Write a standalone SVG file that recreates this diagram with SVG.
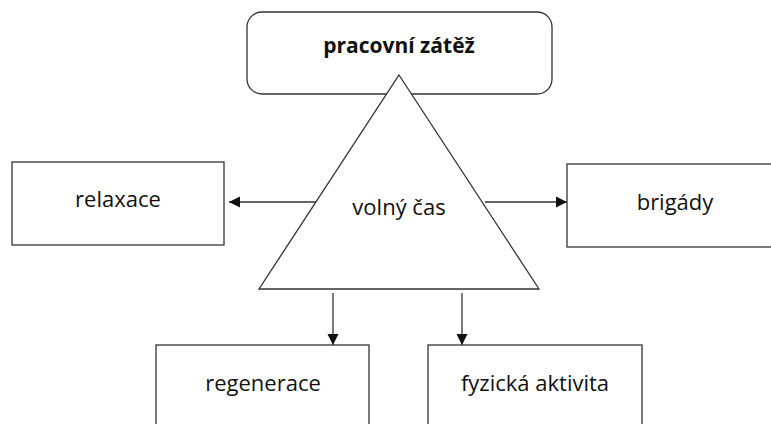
<svg xmlns="http://www.w3.org/2000/svg" width="771" height="424" viewBox="0 0 771 424">
<style>
.box{fill:#fff;stroke:#333;stroke-width:1.3}
.t{font-family:"Open Sans","Liberation Sans",sans-serif;font-size:22px;fill:#111;text-anchor:middle}
.b{font-weight:bold;font-size:21px}
.c{stroke:#333;stroke-width:1.3;fill:none;marker-end:url(#ah)}
</style>
<defs>
<marker id="ah" markerWidth="12" markerHeight="12" refX="11" refY="6" orient="auto" markerUnits="userSpaceOnUse">
<path d="M0,0.5 L11,6 L0,11.5 Z" fill="#111"/>
</marker>
</defs>
<g id="pracovni">
<rect class="box" x="247" y="12" width="305" height="82" rx="15"/>
<text class="t b" x="399" y="53">pracovní zátěž</text>
</g>
<g id="volny">
<polygon class="box" points="399,75 539,289 259,289"/>
<text class="t" x="399" y="215">volný čas</text>
</g>
<g id="relaxace">
<rect class="box" x="12" y="162" width="212" height="83"/>
<text class="t" x="118" y="207">relaxace</text>
</g>
<g id="brigady">
<rect class="box" x="567" y="164" width="220" height="83"/>
<text class="t" x="675" y="210">brigády</text>
</g>
<g id="regenerace">
<rect class="box" x="156" y="345" width="213" height="100"/>
<text class="t" x="263" y="391">regenerace</text>
</g>
<g id="fyzicka">
<rect class="box" x="428" y="345" width="214" height="100"/>
<text class="t" x="535" y="391">fyzická aktivita</text>
</g>
<g id="connectors">
<line class="c" x1="316" y1="202" x2="229" y2="202"/>
<line class="c" x1="485" y1="202" x2="567" y2="202"/>
<line class="c" x1="333" y1="293" x2="333" y2="345"/>
<line class="c" x1="462" y1="293" x2="462" y2="345"/>
</g>
</svg>
